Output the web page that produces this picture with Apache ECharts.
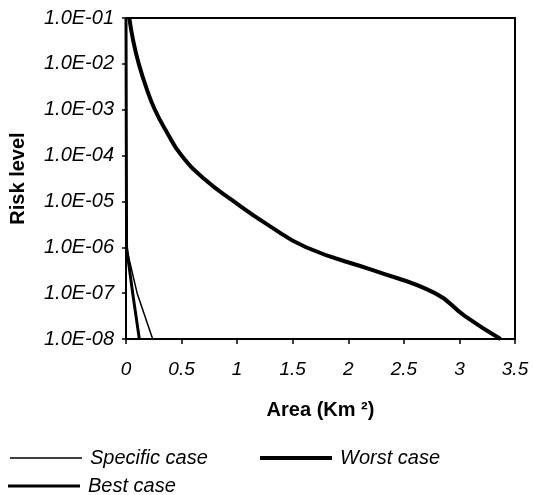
<!DOCTYPE html>
<html>
<head>
<meta charset="utf-8">
<script src="https://cdn.jsdelivr.net/npm/echarts@6/dist/echarts.min.js"></script>
<style>
  html, body { margin: 0; padding: 0; background: #fff; }
  #chart { width: 533px; height: 495px; }
</style>
</head>
<body>
<div id="chart"></div>
<script>
// area (km2) vs risk level
const worstArea = [0.03, 0.065, 0.115, 0.18, 0.26, 0.37, 0.5, 0.7, 0.97, 1.27, 1.62, 2.22, 2.78, 3.05, 3.37];
const worstRisk = [1e-1, 3.16e-2, 1e-2, 3.16e-3, 1e-3, 3.16e-4, 1e-4, 3.16e-5, 1e-5, 3.16e-6, 1e-6, 3.16e-7, 1e-7, 3.16e-8, 1e-8];

const bestArea = [0, 0.005, 0.06, 0.12];
const bestRisk = [1e-1, 1e-6, 1e-7, 1e-8];

const specificArea = [0, 0.003, 0.1, 0.24];
const specificRisk = [1e-1, 1e-6, 1e-7, 1e-8];

const xTicks = { min: 0, max: 3.5, step: 0.5 };

const font = '"Liberation Sans", Arial, sans-serif';
const pairs = (xs, ys) => xs.map((x, i) => [x, ys[i]]);

let chart = echarts.init(document.getElementById('chart'));

const legendBase = {
    orient: 'horizontal',
    padding: 0,
    itemWidth: 72,
    icon: 'rect',
    textStyle: { fontFamily: font, fontStyle: 'italic', fontSize: 20, color: '#000', padding: [0, 0, 0, 3] }
};

chart.setOption({
    animation: false,
    backgroundColor: '#fff',
    grid: {
        left: 126, right: 18, top: 18, bottom: 156,
        show: true, borderColor: '#000', borderWidth: 2
    },
    legend: [
        Object.assign({}, legendBase, { data: ['Specific case'], left: 10, top: 448, itemHeight: 1.5 }),
        Object.assign({}, legendBase, { data: ['Worst case'], left: 260, top: 448, itemHeight: 4 }),
        Object.assign({}, legendBase, { data: ['Best case'], left: 8, top: 476, itemHeight: 3 })
    ],
    xAxis: {
        type: 'value',
        min: xTicks.min, max: xTicks.max, interval: xTicks.step,
        name: 'Area (Km ²)',
        nameLocation: 'middle',
        nameGap: 61,
        nameTextStyle: { fontFamily: font, fontWeight: 'bold', fontSize: 20, color: '#000' },
        axisLine: { lineStyle: { color: '#000', width: 2 } },
        axisTick: { show: true, length: 5, lineStyle: { color: '#000', width: 1.5 } },
        axisLabel: { fontFamily: font, fontStyle: 'italic', fontSize: 19, color: '#000', margin: 21 },
        splitLine: { show: false }
    },
    yAxis: {
        type: 'log',
        logBase: 10,
        min: 1e-8, max: 1e-1, interval: 1,
        name: 'Risk level',
        nameLocation: 'middle',
        nameRotate: 90,
        nameGap: 98,
        nameTextStyle: { fontFamily: font, fontWeight: 'bold', fontSize: 20, color: '#000' },
        axisLine: { lineStyle: { color: '#000', width: 2 } },
        axisTick: { show: true, length: 4, lineStyle: { color: '#000', width: 1.5 } },
        axisLabel: {
            fontFamily: font, fontStyle: 'italic', fontSize: 20, color: '#000', margin: 12,
            formatter: v => {
                const e = Math.round(Math.log10(v));
                return '1.0E-' + String(-e).padStart(2, '0');
            }
        },
        splitLine: { show: false },
        minorTick: { show: false }
    },
    series: [
        {
            name: 'Specific case', type: 'line', symbol: 'none',
            data: pairs(specificArea, specificRisk),
            lineStyle: { color: '#000', width: 1.5 },
            itemStyle: { color: '#000' }
        },
        {
            name: 'Worst case', type: 'line', symbol: 'none', smooth: 0.5,
            data: pairs(worstArea, worstRisk),
            lineStyle: { color: '#000', width: 4 },
            itemStyle: { color: '#000' }
        },
        {
            name: 'Best case', type: 'line', symbol: 'none',
            data: pairs(bestArea, bestRisk),
            lineStyle: { color: '#000', width: 3 },
            itemStyle: { color: '#000' }
        }
    ]
});
</script>
</body>
</html>
